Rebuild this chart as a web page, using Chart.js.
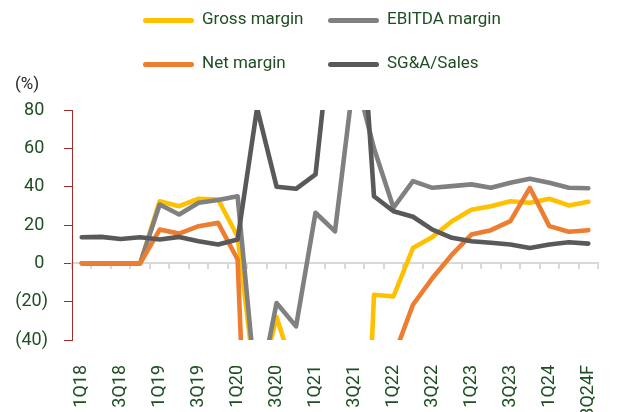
<!DOCTYPE html>
<html>
<head>
<meta charset="utf-8">
<script src="https://cdn.jsdelivr.net/npm/chart.js@4.4.1/dist/chart.umd.min.js"></script>
<style>
  html, body { margin: 0; padding: 0; background: #ffffff; }
  #wrap { position: relative; width: 627px; height: 412px; overflow: hidden; font-family: Roboto, "Noto Sans", sans-serif; }
  canvas { position: absolute; left: 0; top: 0; }
  .sw { position: absolute; width: 51px; height: 5px; border-radius: 2.5px; }
  .lt { position: absolute; font-size: 17px; line-height: 20px; color: #1f4e23; white-space: nowrap; }
  #unit { position: absolute; left: 15px; top: 73px; font-size: 17px; line-height: 20px; color: #262626; }
</style>
</head>
<body>
<div id="wrap">
  <canvas id="c" width="627" height="412"></canvas>
  <div class="sw" style="left:143px;top:18px;background:#FFC000"></div>
  <div class="lt" style="left:202px;top:8px">Gross margin</div>
  <div class="sw" style="left:328px;top:18px;background:#808080"></div>
  <div class="lt" style="left:387px;top:8px">EBITDA margin</div>
  <div class="sw" style="left:143px;top:61.5px;background:#ED7D31"></div>
  <div class="lt" style="left:202px;top:51.5px">Net margin</div>
  <div class="sw" style="left:328px;top:61.5px;background:#595959"></div>
  <div class="lt" style="left:387px;top:51.5px">SG&amp;A/Sales</div>
  <div id="unit">(%)</div>
</div>
<script>
const categories = ['1Q18','2Q18','3Q18','4Q18','1Q19','2Q19','3Q19','4Q19','1Q20','2Q20','3Q20','4Q20','1Q21','2Q21','3Q21','4Q21','1Q22','2Q22','3Q22','4Q22','1Q23','2Q23','3Q23','4Q23','1Q24','2Q24','3Q24F'];
const grossMargin = [0,0,0,0,32.4,29.8,33.7,33.3,14,-70,-28,-60,-120,-180,-250,-16.4,-17.3,8,13.8,22,28,29.8,32.4,31.6,33.7,30.2,32.1];
const ebitdaMargin = [0,0,0,0,30.7,25.5,31.6,33,35,-72,-20.7,-32.9,26.4,16.7,100,60,29,42.9,39.4,40.3,41.2,39.4,42,44.1,42,39.4,39.2];
const netMargin = [0,0,0,0,17.6,15.5,19.4,21.1,2,-250,-200,-200,-150,-150,-150,-120,-49,-21.6,-7.7,4.5,15,17.3,22,39.4,19.4,16.5,17.3];
const sgaSales = [13.6,13.8,12.7,13.6,12.4,13.8,11.5,9.8,12.4,81,40,38.9,46.4,140,185,35,27.2,24.3,17.6,13.3,11.5,10.7,9.8,8.0,9.8,11,10.3];
const yMin = -40, yMax = 80, yStep = 20;

const green = '#1f4e23';
const axisRed = '#A52A2A';

function ds(label, data, color, order) {
  return {
    label, data, borderColor: color, backgroundColor: color,
    borderWidth: 4.6, pointRadius: 0, pointHoverRadius: 0, tension: 0,
    borderJoinStyle: 'round', borderCapStyle: 'round', fill: false,
    clip: 0, order
  };
}

new Chart(document.getElementById('c'), {
  type: 'line',
  data: {
    labels: categories,
    datasets: [
      ds('Gross margin', grossMargin, '#FFC000', 4),
      ds('EBITDA margin', ebitdaMargin, '#808080', 3),
      ds('Net margin', netMargin, '#ED7D31', 2),
      ds('SG&A/Sales', sgaSales, '#595959', 1)
    ]
  },
  options: {
    responsive: false,
    devicePixelRatio: 1,
    animation: false,
    layout: { padding: { top: 110, right: 6, left: 0, bottom: 0 } },
    plugins: { legend: { display: false }, tooltip: { enabled: false } },
    scales: {
      x: {
        type: 'category',
        position: 'bottom',
        offset: true,
        border: { display: false },
        grid: { display: false },
        ticks: {
          autoSkip: false, minRotation: 90, maxRotation: 90, padding: 17,
          color: green, font: { family: 'Roboto', size: 18 },
          callback: (v, i) => (i % 2 === 0 ? categories[i] : '')
        },
        afterFit: (s) => { s.height = 72; }
      },
      x2: {
        type: 'category',
        labels: categories,
        position: { y: 0 },
        offset: true,
        border: { display: true, color: '#D9D9D9', width: 2 },
        grid: { display: true, offset: true, drawOnChartArea: false, drawTicks: true, tickLength: 5, color: '#D9D9D9', lineWidth: 2 },
        ticks: { display: false }
      },
      y: {
        min: yMin, max: yMax,
        position: 'left',
        border: { display: true, color: axisRed, width: 1 },
        grid: { display: true, drawOnChartArea: false, drawTicks: true, tickLength: 8, color: axisRed, lineWidth: 1 },
        ticks: {
          stepSize: yStep, padding: 16, color: green,
          font: { family: 'Roboto', size: 18 },
          callback: (v) => (v < 0 ? '(' + (-v) + ')' : v + '\u2009')
        },
        afterFit: (s) => { s.width = 72; }
      }
    }
  }
});
</script>
</body>
</html>
